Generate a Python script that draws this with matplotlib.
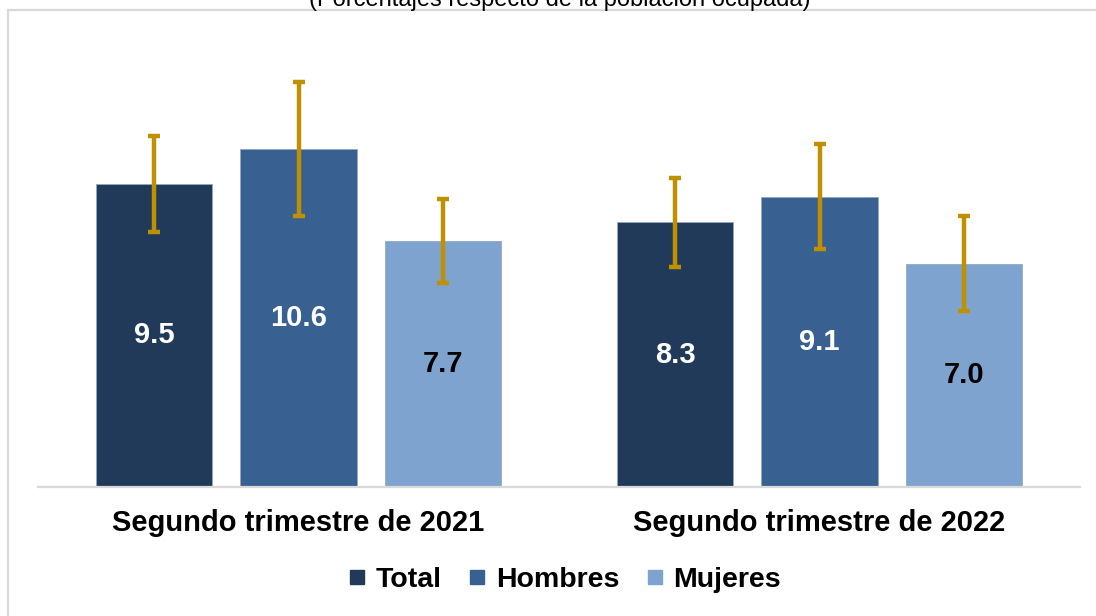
import matplotlib.pyplot as plt
import numpy as np
from matplotlib.lines import Line2D
from matplotlib.patches import Rectangle
from matplotlib.transforms import blended_transform_factory

plt.rcParams['font.family'] = ['Liberation Sans', 'DejaVu Sans']

# data
periodos = ['Segundo trimestre de 2021', 'Segundo trimestre de 2022']
series = ['Total', 'Hombres', 'Mujeres']
total = [9.5, 8.3]
hombres = [10.6, 9.1]
mujeres = [7.7, 7.0]
err_total = [1.5, 1.4]
err_hombres = [2.1, 1.65]
err_mujeres = [1.32, 1.49]

colores = ['#223A5A', '#386090', '#7FA3CF']
color_texto = ['white', 'white', 'black']
color_error = '#BF9000'

W, H = 1096, 616
fig = plt.figure(figsize=(W / 100, H / 100), dpi=100)
ax = fig.add_axes([38 / W, 1 - 487 / H, (1080 - 38) / W, (487 - 40.4) / H])

x = np.arange(len(periodos))
paso = 0.2774
ancho = 0.224
valores = [total, hombres, mujeres]
errores = [err_total, err_hombres, err_mujeres]

for i, (vals, errs) in enumerate(zip(valores, errores)):
    pos = x + (i - 1) * paso
    barras = ax.bar(pos, vals, width=ancho, color=colores[i], edgecolor='#8FA8C8',
                    linewidth=0.6, zorder=2)
    ax.bar_label(barras, labels=[f'{v:.1f}' for v in vals], label_type='center',
                 color=color_texto[i], fontsize=21, fontweight='bold')
    ax.errorbar(pos, vals, yerr=errs, fmt='none', ecolor=color_error,
                elinewidth=3.2, capsize=4, capthick=3.2, zorder=3)

ax.set_xlim(-0.5, 1.5)
ax.set_ylim(0, 14)
for s in ['top', 'right', 'left']:
    ax.spines[s].set_visible(False)
ax.spines['bottom'].set_color('#D9D9D9')
ax.spines['bottom'].set_linewidth(1.6)
ax.set_xticks([])
ax.set_yticks([])

trans = blended_transform_factory(ax.transData, fig.transFigure)
for xi, p in zip(x, periodos):
    ax.text(xi, 1 - 523 / H, p, transform=trans, ha='center', va='center',
            fontsize=21, fontweight='bold', color='black')

fig.text(560 / W, 1 - 6 / H, '(Porcentajes respecto de la población ocupada)',
         ha='center', va='baseline', fontsize=17, color='black')

handles = [Line2D([], [], marker='s', linestyle='none', markersize=10,
                  markerfacecolor=c, markeredgecolor=c) for c in colores]
fig.legend(handles, series, loc='center', bbox_to_anchor=(564 / W, 1 - 580 / H),
           ncol=3, frameon=False, prop={'size': 20.5, 'weight': 'bold'},
           handlelength=0.7, handletextpad=0.3, columnspacing=0.9)

fig.patches.append(Rectangle((7.5 / W, -0.1), 1.5, 1.1 - 10 / H, transform=fig.transFigure,
                             fill=False, edgecolor='#D9D9D9', linewidth=1.6))

fig.savefig('out.png', dpi=100)
